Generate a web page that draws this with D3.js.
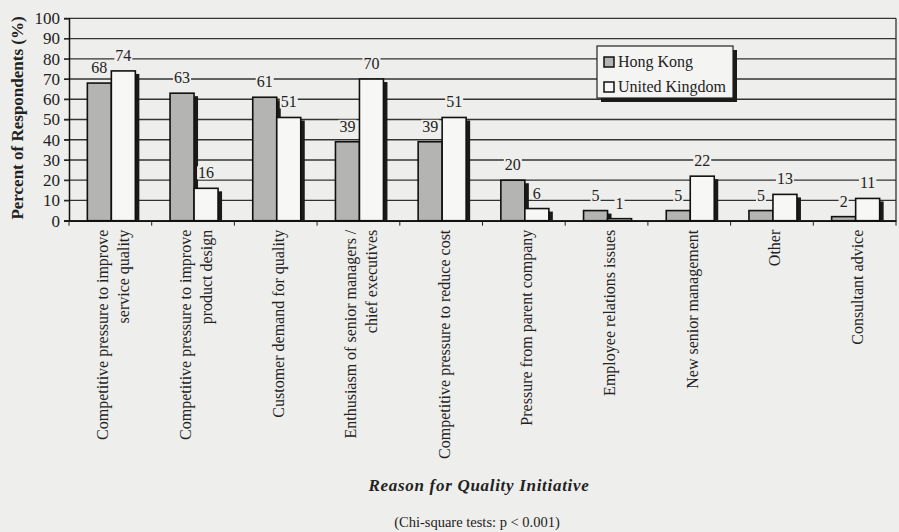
<!DOCTYPE html>
<html><head><meta charset="utf-8">
<script src="https://cdn.jsdelivr.net/npm/d3@7"></script>
<style>body{margin:0;background:#eeeeec;}svg{display:block;}</style>
</head><body>
<svg id="c" width="899" height="532"></svg>
<script>
const categories = [
  ["Competitive pressure to improve","service quality"],
  ["Competitive pressure to improve","product design"],
  ["Customer demand for quality"],
  ["Enthusiasm of senior managers /","chief executives"],
  ["Competitive pressure to reduce cost"],
  ["Pressure from parent company"],
  ["Employee relations issues"],
  ["New senior management"],
  ["Other"],
  ["Consultant advice"]
];
const seriesNames = ["Hong Kong","United Kingdom"];
const hongKong = [68,63,61,39,39,20,5,5,5,2];
const unitedKingdom = [74,16,51,70,51,6,1,22,13,11];
const yTicks = [0,10,20,30,40,50,60,70,80,90,100];

(function(){
const font = "'Liberation Serif','Times New Roman',serif";
const svg = d3.select("#c");
const pL = 69, pR = 896, pT = 18.3, pB = 220.7;
const x = d3.scaleBand().domain(d3.range(categories.length)).range([pL,pR]);
const y = d3.scaleLinear().domain([0,100]).range([pB,pT]);
const fills = ["#b4b4b2","#f7f7f5"];
const barW = 24;

// gridlines
svg.append("g").selectAll("line").data(yTicks).join("line")
  .attr("x1",pL-5).attr("x2",pR).attr("y1",d=>y(d)).attr("y2",d=>y(d))
  .attr("stroke","#333").attr("stroke-width",1.3);
svg.append("line").attr("x1",pR).attr("x2",pR).attr("y1",pT).attr("y2",pB)
  .attr("stroke","#333").attr("stroke-width",1.3);

// y axis
const ya = svg.append("g").attr("transform",`translate(${pL},0)`)
  .call(d3.axisLeft(y).tickValues(yTicks).tickSize(5).tickPadding(4));
ya.select(".domain").attr("stroke","#111").attr("stroke-width",1.5);
ya.selectAll("line").attr("stroke","#222");
ya.selectAll("text").attr("font-family",font).attr("font-size",17).attr("fill","#222");

// x axis
const xa = svg.append("g").attr("transform",`translate(0,${pB})`)
  .call(d3.axisBottom(x).tickSize(0).tickFormat(""));
xa.select(".domain").attr("stroke","#111").attr("stroke-width",1.5);
svg.append("g").selectAll("line").data(d3.range(categories.length+1)).join("line")
  .attr("x1",d=>pL+d*x.step()).attr("x2",d=>pL+d*x.step())
  .attr("y1",pB).attr("y2",pB+5).attr("stroke","#222");

// bars
const data = [];
categories.forEach((c,i)=>{
  data.push({i,s:0,v:hongKong[i]});
  data.push({i,s:1,v:unitedKingdom[i]});
});
const cx = i => x(i)+x.bandwidth()/2+1;
const bx = d => cx(d.i) + (d.s===0 ? -barW : 0);
const bars = svg.append("g");
data.forEach(d=>{
  const g = bars.append("g");
  g.append("rect").attr("x",bx(d)+4).attr("y",y(d.v)+3)
    .attr("width",barW).attr("height",Math.max(0,pB-y(d.v)-3)).attr("fill","#1a1a1a");
  g.append("rect").attr("x",bx(d)).attr("y",y(d.v))
    .attr("width",barW).attr("height",pB-y(d.v))
    .attr("fill",fills[d.s]).attr("stroke","#111").attr("stroke-width",1.6);
});

// labels
const lab = svg.append("g");
data.forEach(d=>{
  const tx = bx(d)+barW/2, ty = y(d.v)-10;
  const t = lab.append("text").attr("x",tx).attr("y",ty).attr("text-anchor","middle")
    .attr("font-family",font).attr("font-size",16).attr("fill","#222").text(d.v);
  const bb = t.node().getBBox();
  lab.insert("rect","text:last-child").attr("x",bb.x-1).attr("y",bb.y+2)
    .attr("width",bb.width+2).attr("height",bb.height-4).attr("fill","#eeeeec");
});

// category labels
categories.forEach((lines,i)=>{
  const c = x(i)+x.bandwidth()/2+3;
  const n = lines.length;
  lines.forEach((ln,j)=>{
    const off = (j-(n-1)/2)*21;
    svg.append("text")
      .attr("transform",`translate(${c+off+5.5},${pB+9}) rotate(-90)`)
      .attr("text-anchor","end").attr("font-family",font).attr("font-size",16)
      .attr("fill","#222").text(ln);
  });
});

// y title
svg.append("text").attr("transform","translate(23,118) rotate(-90)")
  .attr("text-anchor","middle").attr("font-family",font).attr("font-size",17)
  .attr("font-weight","bold").attr("fill","#222").text("Percent of Respondents (%)");

// x title
svg.append("text").attr("x",479).attr("y",491).attr("text-anchor","middle")
  .attr("font-family",font).attr("font-size",17).attr("font-weight","bold")
  .attr("font-style","italic").attr("letter-spacing","0.7").attr("fill","#222")
  .text("Reason for Quality Initiative");
svg.append("text").attr("x",477).attr("y",527).attr("text-anchor","middle")
  .attr("font-family",font).attr("font-size",14.5).attr("fill","#222")
  .text("(Chi-square tests: p < 0.001)");

// legend
const lg = svg.append("g").attr("transform","translate(597,46)");
lg.append("rect").attr("x",4).attr("y",4).attr("width",136).attr("height",52).attr("fill","#1a1a1a");
lg.append("rect").attr("x",0).attr("y",0).attr("width",136).attr("height",52)
  .attr("fill","#f4f4f2").attr("stroke","#222").attr("stroke-width",1.2);
seriesNames.forEach((s,k)=>{
  lg.append("rect").attr("x",7).attr("y",11+k*25).attr("width",10).attr("height",10)
    .attr("fill",fills[k]).attr("stroke","#111").attr("stroke-width",1.5);
  lg.append("text").attr("x",21).attr("y",21+k*25).attr("font-family",font)
    .attr("font-size",16).attr("fill","#222").text(s);
});
})();
</script>
</body></html>
